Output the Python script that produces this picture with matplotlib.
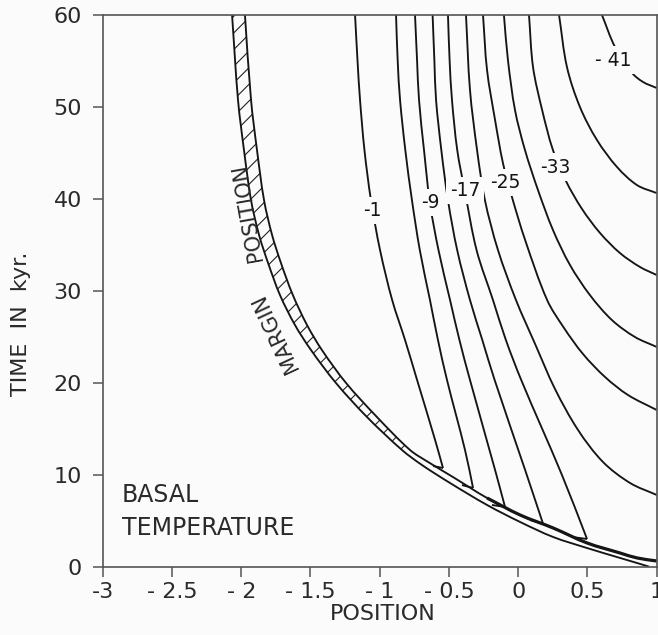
import numpy as np
import matplotlib.pyplot as plt
from matplotlib.path import Path
from matplotlib.patches import PathPatch

BG = "#fbfbfb"
INK = "#151515"
GREY = "#2a2a2a"
FONT = "DejaVu Sans"

plt.rcParams["font.family"] = FONT
plt.rcParams["hatch.linewidth"] = 0.8

# ice margin band: outer (left) and inner (right) edge, position vs time in kyr
margin_outer_x = [-2.066, -2.023, -1.980, -1.929, -1.871, -1.806, -1.720, -1.612, -1.496, -1.316,
                  -1.092, -0.839, -0.695, -0.492, -0.225, 0.014, 0.252, 0.497, 0.735, 0.858, 0.945]
margin_outer_t = [60.0, 50.75, 45.31, 39.85, 36.07, 33.03, 29.54, 26.29, 23.56, 19.98,
                  16.28, 12.69, 11.06, 9.10, 6.71, 4.86, 3.23, 2.03, 0.95, 0.40, 0.0]
margin_inner_x = [-1.973, -1.929, -1.886, -1.835, -1.777, -1.713, -1.627, -1.525, -1.417, -1.243,
                  -1.020, -0.781, -0.651, -0.471, -0.225, 0.014, 0.252, 0.497, 0.735, 0.858, 1.0]
margin_inner_t = [60.0, 50.75, 45.31, 39.85, 36.07, 33.03, 29.54, 26.29, 23.56, 19.98,
                  16.28, 12.69, 11.39, 9.75, 7.47, 5.62, 4.21, 2.58, 1.49, 0.95, 0.62]

# basal temperature isotherms (deg C); the warm ones end in a short foot on the margin
iso_m1_x = [-1.178, -1.160, -1.142, -1.110, -1.063, -0.997, -0.910, -0.818, -0.730, -0.600, -0.543, -0.615]
iso_m1_t = [60.0, 55.0, 50.75, 45.3, 39.85, 34.4, 29.0, 24.7, 20.3, 13.78, 10.73, 10.95]

iso_m5_x = [-0.882, -0.870, -0.853, -0.815, -0.767, -0.710, -0.637, -0.580, -0.514, -0.384, -0.326, -0.406]
iso_m5_t = [60.0, 55.0, 50.75, 45.3, 39.85, 34.4, 29.0, 24.7, 20.3, 12.69, 8.56, 8.88]

iso_m9_x = [-0.745, -0.730, -0.716, -0.680, -0.637, -0.575, -0.492, -0.425, -0.348, -0.167, -0.095, -0.189]
iso_m9_t = [60.0, 55.0, 50.75, 45.3, 39.5, 34.4, 29.0, 24.7, 20.3, 10.52, 6.49, 6.71]

iso_m13_x = [-0.618, -0.605, -0.593, -0.555, -0.507, -0.440, -0.348, -0.260, -0.170, 0.050, 0.180, 0.085]
iso_m13_t = [60.0, 55.0, 50.75, 45.3, 39.85, 34.4, 29.0, 24.7, 20.3, 10.52, 4.64, 5.08]

iso_m17_x = [-0.507, -0.495, -0.478, -0.440, -0.384, -0.300, -0.182, -0.090, 0.022, 0.316, 0.497, 0.389]
iso_m17_t = [60.0, 55.0, 50.75, 45.3, 40.74, 34.4, 29.0, 24.7, 20.3, 9.97, 3.01, 3.23]

iso_m21_x = [-0.377, -0.348, -0.297, -0.240, -0.146, -0.016, 0.122, 0.266, 0.432, 0.612, 0.808, 1.0]
iso_m21_t = [60.0, 51.84, 45.31, 39.85, 34.44, 29.0, 24.22, 19.32, 14.87, 11.39, 9.10, 7.80]

iso_m25_x = [-0.254, -0.225, -0.167, -0.110, -0.045, 0.050, 0.209, 0.331, 0.468, 0.627, 0.793, 1.0]
iso_m25_t = [60.0, 54.02, 48.58, 43.89, 40.2, 35.53, 29.0, 25.96, 23.13, 20.63, 18.67, 17.04]

iso_m29_x = [-0.103, -0.074, -0.023, 0.049, 0.143, 0.251, 0.374, 0.518, 0.677, 0.843, 1.0]
iso_m29_t = [60.0, 55.1, 49.66, 45.31, 40.96, 36.62, 32.81, 29.54, 26.82, 24.98, 23.9]

iso_m33_x = [0.078, 0.107, 0.173, 0.251, 0.345, 0.461, 0.591, 0.735, 0.880, 1.0]
iso_m33_t = [60.0, 54.35, 49.66, 45.31, 41.94, 38.90, 36.29, 34.11, 32.59, 31.72]

iso_m37_x = [0.295, 0.352, 0.446, 0.569, 0.714, 0.858, 1.0]
iso_m37_t = [60.0, 54.35, 49.99, 46.4, 43.46, 41.5, 40.63]

iso_m41_x = [0.605, 0.699, 0.823, 0.902, 1.0]
iso_m41_t = [60.0, 56.52, 53.69, 52.71, 52.06]

iso_labels = ["-1", "-9", "-17", "-25", "-33", "- 41"]

xticks = [-3, -2.5, -2, -1.5, -1, -0.5, 0, 0.5, 1]
xtick_labels = ["-3", "- 2.5", "- 2", "- 1.5", "- 1", "- 0.5", "0", "0.5", "1"]
yticks = [0, 10, 20, 30, 40, 50, 60]

fig = plt.figure(figsize=(6.58, 6.35), dpi=100)
fig.patch.set_facecolor(BG)
ax = fig.add_axes([0.1561, 0.1076, 0.8419, 0.8688])
ax.set_facecolor(BG)
ax.set_xlim(-3, 1)
ax.set_ylim(0, 60)


def bezier(xs, ts):
    """Cubic pieces through the read points (tangents from chord lengths, in pixels)."""
    pts = ax.transData.transform(np.column_stack([xs, ts]))
    d = np.hypot(*np.diff(pts, axis=0).T)
    tan = np.empty_like(pts)
    tan[0] = (pts[1] - pts[0]) / d[0]
    tan[-1] = (pts[-1] - pts[-2]) / d[-1]
    tan[1:-1] = (pts[2:] - pts[:-2]) / (d[:-1] + d[1:])[:, None]
    verts = [pts[0]]
    for i in range(len(pts) - 1):
        verts += [pts[i] + tan[i] * d[i] / 3, pts[i + 1] - tan[i + 1] * d[i] / 3, pts[i + 1]]
    return ax.transData.inverted().transform(np.array(verts))


def curve(xs, ts, lw=1.35):
    v = bezier(xs, ts)
    codes = [Path.MOVETO] + [Path.CURVE4] * (len(v) - 1)
    ax.add_patch(PathPatch(Path(v, codes), fill=False, edgecolor=INK, lw=lw,
                           joinstyle="round", capstyle="butt"))


# hatched margin band, down to where the hatching stops
k = 12
vo = bezier(margin_outer_x[:k], margin_outer_t[:k])
vi = bezier(margin_inner_x[:k][::-1], margin_inner_t[:k][::-1])
band_v = np.vstack([vo, vi, vo[:1]])
band_c = ([Path.MOVETO] + [Path.CURVE4] * (len(vo) - 1) + [Path.LINETO]
          + [Path.CURVE4] * (len(vi) - 1) + [Path.CLOSEPOLY])
ax.add_patch(PathPatch(Path(band_v, band_c), facecolor="none", edgecolor="#222222",
                       hatch="//", lw=0))

curve(margin_outer_x, margin_outer_t)
curve(margin_inner_x, margin_inner_t)
# returning isotherms pile up along the margin near the bottom
curve(margin_inner_x[14:], margin_inner_t[14:], lw=2.3)

cusped = [(iso_m1_x, iso_m1_t), (iso_m5_x, iso_m5_t), (iso_m9_x, iso_m9_t),
          (iso_m13_x, iso_m13_t), (iso_m17_x, iso_m17_t)]
for xs, ts in cusped:
    curve(xs[:-1], ts[:-1])
    ax.plot(xs[-2:], ts[-2:], color=INK, lw=1.35, solid_capstyle="butt")

open_edge = [(iso_m21_x, iso_m21_t), (iso_m25_x, iso_m25_t), (iso_m29_x, iso_m29_t),
             (iso_m33_x, iso_m33_t), (iso_m37_x, iso_m37_t), (iso_m41_x, iso_m41_t)]
for xs, ts in open_edge:
    curve(xs, ts)

# inline labels on every other isotherm
label_spots = [(-1.055, 38.76), (-0.637, 39.6), (-0.384, 40.9),
               (-0.090, 41.8), (0.266, 43.46), (0.686, 55.1)]
for txt, (lx, lt) in zip(iso_labels, label_spots):
    ax.text(lx, lt, txt, ha="center", va="center", fontsize=13.5, color=INK,
            bbox=dict(boxstyle="square,pad=0.22", fc=BG, ec="none"), zorder=5)

ax.text(-1.955, 38.5, "POSITION", rotation=100, ha="center", va="center",
        fontsize=15, color=GREY)
ax.text(-1.755, 25.5, "MARGIN", rotation=115, ha="center", va="center",
        fontsize=15, color=GREY)

ax.text(-2.861, 7.0, "BASAL", fontsize=17, color=GREY, va="baseline")
ax.text(-2.861, 3.45, "TEMPERATURE", fontsize=17, color=GREY, va="baseline")

ax.set_xticks(xticks)
ax.set_xticklabels(xtick_labels)
ax.set_yticks(yticks)
ax.tick_params(axis="both", direction="out", length=7, width=1.1, color="#555555",
               labelsize=16, labelcolor=GREY)
ax.tick_params(axis="x", pad=4)
ax.tick_params(axis="y", pad=8)

for s in ax.spines.values():
    s.set_color("#555555")
    s.set_linewidth(1.2)

ax.set_xlabel("POSITION", fontsize=16, color=GREY)
ax.xaxis.set_label_coords(0.506, -0.068)
ax.set_ylabel("TIME  IN  kyr.", fontsize=16, color=GREY)
ax.yaxis.set_label_coords(-0.129, 0.44)

fig.savefig("out.png", dpi=100, facecolor=BG)
